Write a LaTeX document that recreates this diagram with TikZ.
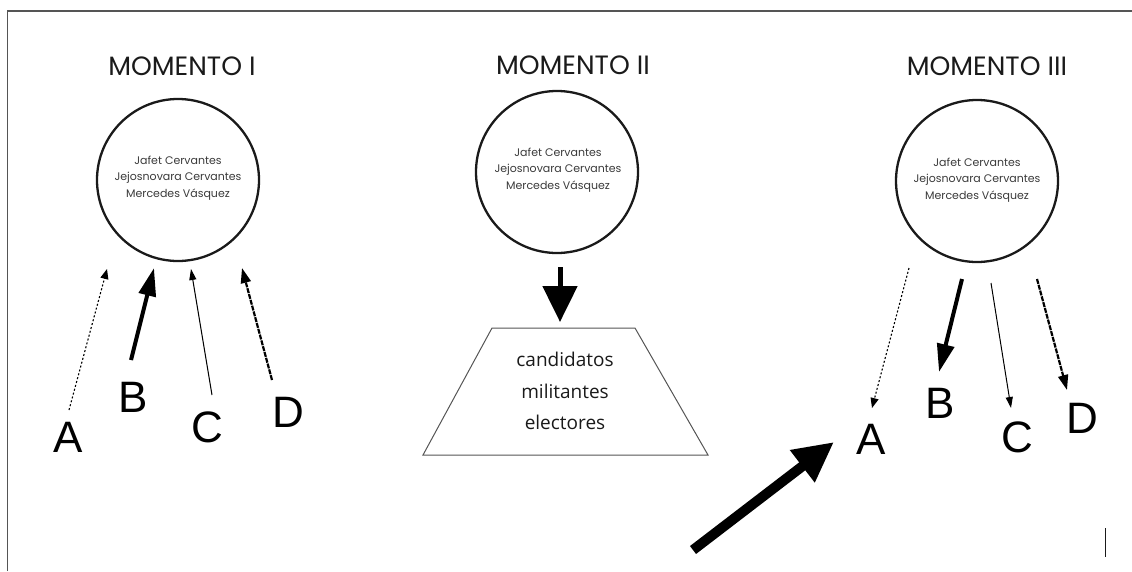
\documentclass[tikz,border=0pt]{standalone}
\usepackage{fontspec}
\setmainfont{Poppins}
\newfontfamily\letterfont{Liberation Sans}
\newfontfamily\boxfont{Open Sans}
\usetikzlibrary{arrows.meta}
\definecolor{ink}{HTML}{1A1A1A}
\definecolor{nametext}{HTML}{3A3A3A}
\definecolor{framegray}{HTML}{555555}
\begin{document}
\begin{tikzpicture}[x=1pt,y=-1pt,
  moment/.style={circle,draw=ink,line width=2.3pt,minimum size=162pt,inner sep=0pt},
  names/.style={font=\fontsize{11}{16.5}\selectfont,text=nametext,align=center},
  title/.style={font=\fontsize{26.5}{30}\selectfont,text=ink},
  letter/.style={font=\letterfont\fontsize{44}{44}\selectfont,text=black,inner sep=0pt},
  strong/.style={line width=4pt,-{Triangle[length=28pt,width=17pt]}},
  thin/.style={line width=1pt,-{Triangle[length=11pt,width=7pt]}},
  dashedarrow/.style={line width=2.2pt,dash pattern=on 5pt off 1pt,-{Triangle[length=15pt,width=10pt]}},
  dottedarrow/.style={line width=1.1pt,dash pattern=on 2pt off 2pt,-{Triangle[length=10pt,width=8pt]}},
]
\useasboundingbox (0,0) rectangle (1132,571);
% page frame
\draw[framegray,line width=1.2pt] (7.5,571) -- (7.5,11) -- (1132,11);
\draw[ink,line width=1pt] (1105,528) -- (1105,557);

% ---- Momento I ----
\node[title] (t1) at (182,66) {MOMENTO I};
\node[moment] (c1) at (178,180) {};
\node[names] (n1) at (178,178) {Jafet Cervantes\\Jejosnovara Cervantes\\Mercedes Vásquez};
\node[letter] (a1) at (68,437) {A};
\node[letter] (b1) at (133,397) {B};
\node[letter] (cc1) at (207,427) {C};
\node[letter] (d1) at (288,412) {D};
\coordinate (a1s) at (69,410);  \coordinate (a1e) at (107,269);
\coordinate (b1s) at (131,360); \coordinate (b1e) at (154,268);
\coordinate (c1s) at (212,395); \coordinate (c1e) at (191,269);
\coordinate (d1s) at (272,380); \coordinate (d1e) at (242,268);
\draw[dottedarrow] (a1s) -- (a1e);
\draw[strong] (b1s) -- (b1e);
\draw[thin] (c1s) -- (c1e);
\draw[dashedarrow] (d1s) -- (d1e);

% ---- Momento II ----
\node[title] (t2) at (573,65) {MOMENTO II};
\node[moment] (c2) at (557,172) {};
\node[names] (n2) at (558,170) {Jafet Cervantes\\Jejosnovara Cervantes\\Mercedes Vásquez};
\coordinate (p1) at (492,328);
\coordinate (p2) at (635,328);
\coordinate (p3) at (708,455);
\coordinate (p4) at (423,455);
\draw[framegray,line width=1pt] (p1) -- (p2) -- (p3) -- (p4) -- cycle;
\node[font=\boxfont\fontsize{19}{31.5}\selectfont,text=ink,align=center] (grp) at (565,391)
  {candidatos\\militantes\\electores};
\coordinate (m2s) at (560,267);
\coordinate (m2e) at (560,322);
\draw[line width=5pt,-{Triangle[length=36pt,width=34pt]}] (m2s) -- (m2e);

% ---- Momento III ----
\node[title] (t3) at (987,66) {MOMENTO III};
\node[moment] (c3) at (977,181) {};
\node[names] (n3) at (977,180) {Jafet Cervantes\\Jejosnovara Cervantes\\Mercedes Vásquez};
\node[letter] (a3) at (871,439) {A};
\node[letter] (b3) at (940,403) {B};
\node[letter] (cc3) at (1017,437) {C};
\node[letter] (d3) at (1082,418) {D};
\coordinate (a3s) at (909,268);  \coordinate (a3e) at (872,408);
\coordinate (b3s) at (962,279);  \coordinate (b3e) at (939,372);
\coordinate (c3s) at (991,283);  \coordinate (c3e) at (1011,408);
\coordinate (d3s) at (1037,279); \coordinate (d3e) at (1067,390);
\draw[dottedarrow] (a3s) -- (a3e);
\draw[strong] (b3s) -- (b3e);
\draw[thin] (c3s) -- (c3e);
\draw[dashedarrow] (d3s) -- (d3e);

% pointer towards A
\coordinate (ps) at (693,550);
\coordinate (pe) at (834,442);
\draw[line width=10pt,-{Triangle[length=40pt,width=38pt]}] (ps) -- (pe);
\end{tikzpicture}
\end{document}
